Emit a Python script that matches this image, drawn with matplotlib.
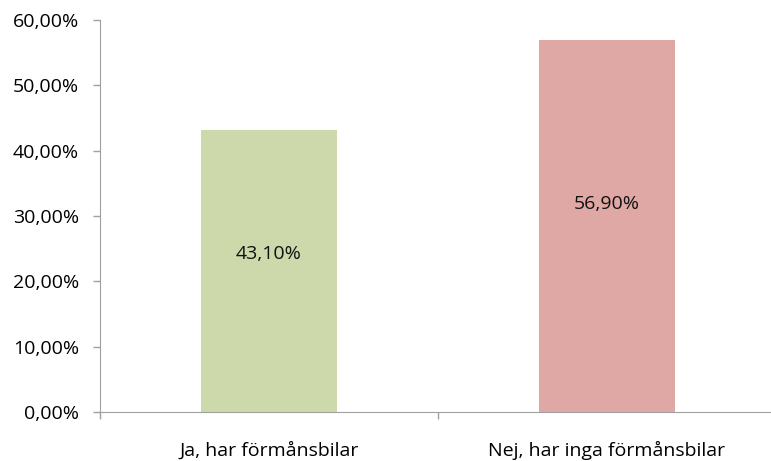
import numpy as np
import matplotlib.pyplot as plt
from matplotlib.ticker import FuncFormatter

categories = ['Ja, har förmånsbilar', 'Nej, har inga förmånsbilar']
values = [43.10, 56.90]
colors = ['#CDD9AB', '#E0A8A5']

plt.rcParams['font.family'] = ['Open Sans', 'DejaVu Sans']
fs = 14

fig = plt.figure(figsize=(7.71, 4.61), dpi=100)
ax = fig.add_axes([100 / 771, 49 / 461, 676 / 771, 392 / 461])

x = np.arange(len(categories))
ax.bar(x, values, width=0.4, color=colors)

# data labels, a bit above the bar centre like the original
for xi, v in zip(x, values):
    ax.text(xi, v * 0.56, f'{v:.2f}%'.replace('.', ','), ha='center', va='center',
            fontsize=fs, color='#111111')

ax.set_xlim(-0.5, 1.5)
ax.set_ylim(0, 60)
ax.set_yticks(np.arange(0, 61, 10))
ax.yaxis.set_major_formatter(FuncFormatter(lambda v, p: f'{v:.2f}%'.replace('.', ',')))

ax.set_xticks(x)
ax.set_xticklabels(categories)
ax.set_xticks([-0.5, 0.5, 1.5], minor=True)
ax.tick_params(axis='x', which='major', length=0, pad=21, labelsize=fs)
ax.tick_params(axis='x', which='minor', length=5, color='#A0A0A0', width=1)
ax.tick_params(axis='y', length=5, color='#A0A0A0', width=1, pad=10, labelsize=fs)

for s in ['top', 'right']:
    ax.spines[s].set_visible(False)
for s in ['left', 'bottom']:
    ax.spines[s].set_color('#A0A0A0')

fig.savefig('out.png', dpi=100)
